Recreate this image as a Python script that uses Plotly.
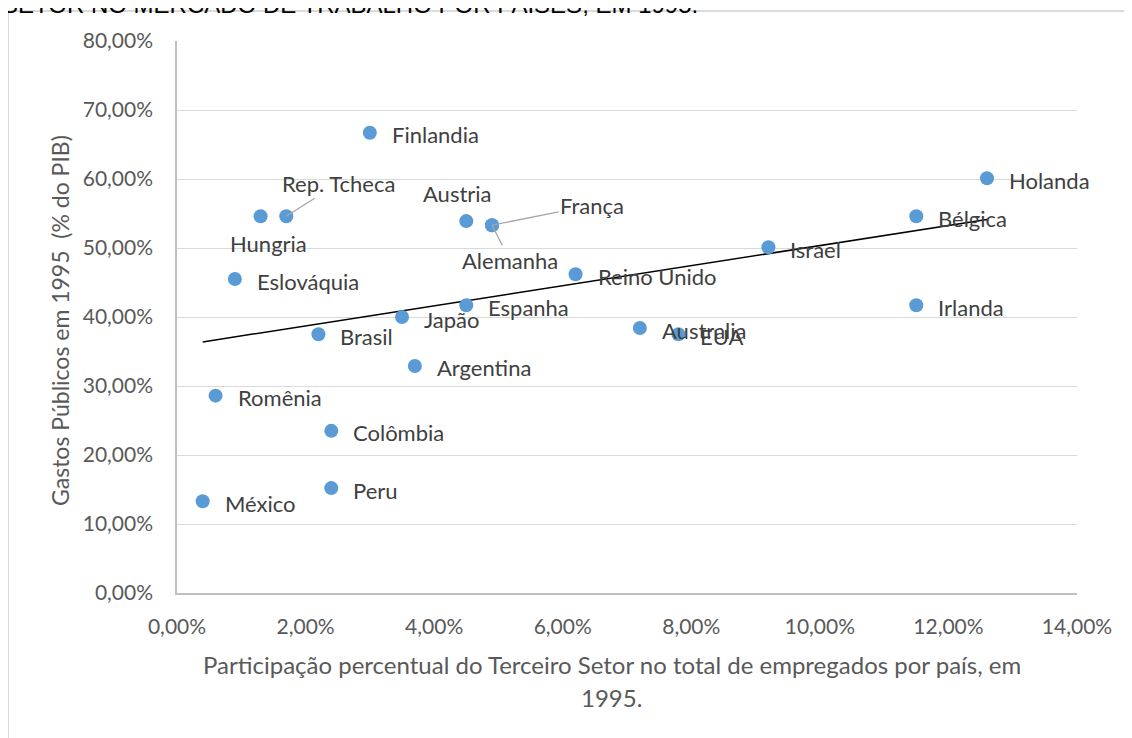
import numpy as np
import plotly.graph_objects as go

# ---- data ----
paises = ["Finlandia", "Rep. Tcheca", "Hungria", "Austria", "França", "Alemanha",
          "Eslováquia", "Holanda", "Bélgica", "Israel", "Reino Unido", "Espanha",
          "Irlanda", "Japão", "Brasil", "Australia", "EUA", "Argentina",
          "Romênia", "Colômbia", "Peru", "México"]
terceiro_setor = [0.030, 0.017, 0.013, 0.045, 0.049, 0.049,
                  0.009, 0.126, 0.115, 0.092, 0.062, 0.045,
                  0.115, 0.035, 0.022, 0.072, 0.078, 0.037,
                  0.006, 0.024, 0.024, 0.004]
gastos_publicos = [0.667, 0.546, 0.546, 0.539, 0.533, 0.533,
                   0.455, 0.601, 0.546, 0.501, 0.462, 0.417,
                   0.417, 0.400, 0.375, 0.384, 0.375, 0.329,
                   0.286, 0.235, 0.152, 0.133]
x_ticks = [0, 0.02, 0.04, 0.06, 0.08, 0.10, 0.12, 0.14]
y_ticks = [0, 0.1, 0.2, 0.3, 0.4, 0.5, 0.6, 0.7, 0.8]

titulo = "SETOR NO MERCADO DE TRABALHO POR PAÍSES, EM 1995."
x_titulo_1 = "Participação percentual do Terceiro Setor no total de empregados por país, em"
x_titulo_2 = "1995."
y_titulo = "Gastos Públicos em 1995 \u00a0(% do PIB)"

# ---- label placement (pixel offsets) ----
label_special = {
    "Rep. Tcheca": dict(ax=52, ay=-33, arrow=True),
    "França": dict(ax=100, ay=-20, arrow=True),
    "Alemanha": dict(ax=18, ay=35, arrow=True),
    "Hungria": dict(ax=8, ay=27, arrow=False),
    "Austria": dict(ax=-9, ay=-28, arrow=False),
}

FONT = "Lato, Carlito, Calibri, sans-serif"
LABEL_COLOR = "#404040"
TICK_COLOR = "#595959"
LABEL_SIZE = 22

fig = go.Figure()

# trendline (linear regression)
xs = np.array(terceiro_setor)
ys = np.array(gastos_publicos)
m, b = np.polyfit(xs, ys, 1)
xl = np.array([xs.min(), xs.max()])
fig.add_trace(go.Scatter(x=xl, y=m * xl + b, mode="lines",
                         line=dict(color="black", width=1.5),
                         hoverinfo="skip", showlegend=False))

fig.add_trace(go.Scatter(x=terceiro_setor, y=gastos_publicos, mode="markers",
                         marker=dict(size=14, color="#5b9bd5"),
                         text=paises, hoverinfo="text", showlegend=False))

annotations = []
for name, xv, yv in zip(paises, terceiro_setor, gastos_publicos):
    lf = dict(family=FONT, size=LABEL_SIZE, color=LABEL_COLOR)
    if name in label_special:
        s = label_special[name]
        if s["arrow"]:
            annotations.append(dict(x=xv, y=yv, xref="x", yref="y", text=name,
                                    showarrow=True, arrowhead=0, arrowwidth=1.3,
                                    arrowcolor="#a6a6a6", ax=s["ax"], ay=s["ay"],
                                    axref="pixel", ayref="pixel", standoff=0, font=lf))
        else:
            annotations.append(dict(x=xv, y=yv, xref="x", yref="y", text=name,
                                    showarrow=False, xanchor="center", yanchor="middle",
                                    xshift=s["ax"], yshift=-s["ay"], font=lf))
    else:
        annotations.append(dict(x=xv, y=yv, xref="x", yref="y", text=name,
                                showarrow=False, xanchor="left", yanchor="middle",
                                xshift=20, yshift=-2, font=lf))

# axis titles
annotations.append(dict(x=0.4833, y=-0.1304, xref="paper", yref="paper",
                        text=x_titulo_1, showarrow=False, xanchor="center", yanchor="middle",
                        font=dict(family=FONT, size=24, color=TICK_COLOR)))
annotations.append(dict(x=0.4833, y=-0.1902, xref="paper", yref="paper",
                        text=x_titulo_2, showarrow=False, xanchor="center", yanchor="middle",
                        font=dict(family=FONT, size=24, color=TICK_COLOR)))
annotations.append(dict(x=-0.13, y=0.4928, xref="paper", yref="paper",
                        text=y_titulo, showarrow=False, textangle=-90,
                        xanchor="center", yanchor="middle",
                        font=dict(family=FONT, size=23, color=TICK_COLOR)))
# cropped title at top (only its lower edge is visible)
annotations.append(dict(x=-0.1967, y=1.0670, xref="paper", yref="paper",
                        text=titulo, showarrow=False, xanchor="left", yanchor="middle",
                        font=dict(family="Liberation Sans, Arial", size=24, color="black")))

shapes = [dict(type="rect", xref="paper", yref="paper",
               x0=(8 - 177) / 900, x1=1.08, y0=-0.3, y1=(593 - 11) / 552,
               line=dict(color="#d0d0d0", width=1.5), fillcolor="rgba(0,0,0,0)",
               layer="below")]

# the page body adds an 8px offset, so the figure is 8px smaller and margins shifted
fig.update_layout(
    width=1124, height=730,
    margin=dict(l=169, r=55, t=33, b=145),
    paper_bgcolor="white", plot_bgcolor="white",
    separators=",.",
    annotations=annotations, shapes=shapes,
    font=dict(family=FONT),
)
fig.update_xaxes(range=[0, 0.14], tickvals=x_ticks, tickformat=".2%",
                 showgrid=False, zeroline=False, showline=True,
                 linecolor="#bfbfbf", linewidth=1.5, ticks="",
                 ticklabelstandoff=14,
                 tickfont=dict(family=FONT, size=21, color=TICK_COLOR))
fig.update_yaxes(range=[0, 0.8], tickvals=y_ticks, tickformat=".2%",
                 showgrid=True, gridcolor="#d9d9d9", gridwidth=1.3,
                 zeroline=False, showline=True,
                 linecolor="#bfbfbf", linewidth=1.5, ticks="",
                 ticklabelstandoff=18,
                 tickfont=dict(family=FONT, size=21, color=TICK_COLOR))

fig.write_html("out.html")
